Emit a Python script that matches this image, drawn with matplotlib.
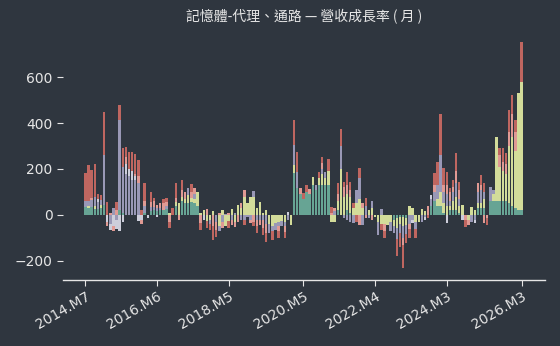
import numpy as np
import matplotlib
matplotlib.use("Agg")
import matplotlib.pyplot as plt

plt.rcParams['font.family'] = ['DejaVu Sans', 'Noto Sans CJK TC']

tick_pos = [0, 23, 46, 70, 93, 116, 140]
tick_labels = ["2014.M7", "2016.M6", "2018.M5", "2020.M5", "2022.M4", "2024.M3", "2026.M3"]

teal = [35,30,35,25,25,30,43,0,0,0,
        0,23,10,0,0,0,0,0,0,10,
        0,15,20,15,20,20,25,0,0,40,
        0,60,50,50,55,50,40,0,0,0,
        0,0,0,0,0,0,0,0,0,0,
        0,0,0,0,0,0,0,0,0,0,
        0,0,0,0,0,0,0,181,116,90,
        70,100,90,130,110,130,130,130,130,0,
        0,20,0,0,20,10,0,0,0,0,
        0,0,0,0,0,0,0,0,0,-20,
        -15,-10,-10,-15,0,0,0,0,0,0,
        0,40,60,40,40,10,0,20,20,20,
        10,0,0,0,0,0,30,30,30,0,
        60,60,60,60,60,60,50,40,30,20,20]

yellow = [0,10,0,15,0,15,0,0,0,0,
          0,0,0,0,0,0,0,0,0,0,
          0,0,0,0,0,0,0,10,0,15,
          51,20,20,35,20,20,61,10,20,-28,
          -20,15,0,-50,22,-50,-28,25,-30,43,
          30,80,51,80,80,29,58,10,20,-40,
          -50,-35,-30,-25,-30,0,-43,36,0,0,
          0,0,0,37,0,30,50,30,60,-29,
          -29,40,200,80,70,70,31,50,70,30,
          0,22,30,-7,-30,-40,-40,-43,-30,-30,
          -40,-30,-40,-30,39,29,-30,-29,25,15,
          0,0,0,30,60,40,40,20,40,60,
          30,43,0,-20,36,22,20,20,40,0,
          0,30,281,150,130,120,250,300,250,509,560]

lavender = [25,20,30,40,30,20,217,0,-40,30,
            -20,390,200,180,170,150,150,140,0,30,
            0,20,15,15,11,0,15,0,0,0,
            0,0,0,31,0,20,0,0,0,0,
            -20,0,-30,-22,-30,5,0,-20,10,0,
            -22,-20,-7,-20,26,-20,-23,-20,-40,-40,
            -20,-30,-20,-25,-20,-22,0,87,72,0,
            0,0,0,0,20,0,20,28,0,0,
            15,0,100,-14,-22,-29,-36,59,90,-43,
            40,-14,32,0,-57,25,0,0,-42,-30,
            -50,-40,-50,-40,-40,-20,-30,0,-29,-10,
            0,30,40,60,160,50,50,20,40,60,
            30,0,0,0,-29,-20,50,60,30,0,
            63,19,0,0,0,0,0,0,0,0,0]

light = [0,0,0,0,15,0,0,-30,-25,-50,
         -40,-72,-30,40,30,40,20,-25,-20,0,
         -15,0,0,-10,0,0,0,0,0,0,
         0,0,0,0,0,0,0,0,-20,0,
         0,0,0,0,0,0,0,0,0,0,
         0,0,0,0,0,0,0,0,0,0,
         0,0,0,0,0,14,0,0,0,0,
         0,0,0,0,0,0,0,0,0,0,
         0,0,0,0,0,0,0,0,0,0,
         0,0,0,0,0,0,0,0,0,0,
         0,0,0,0,0,-16,0,0,0,-12,
         0,17,0,0,0,0,-36,0,0,0,
         0,-22,0,0,0,-16,0,0,0,0,
         0,0,0,0,0,0,0,0,0,0,0]

pink = [0,0,10,0,0,0,0,-20,10,-22,
        20,0,0,30,0,0,10,30,-20,20,
        0,20,25,13,20,30,15,-30,0,20,
        -22,30,31,0,25,29,0,-35,0,25,
        0,-50,-34,10,-28,0,10,-23,-23,-30,
        21,29,0,-16,-30,-30,-20,-37,-40,0,
        0,0,-21,0,-26,0,0,0,0,26,
        0,0,22,0,0,0,25,0,0,10,
        14,30,0,40,40,30,0,0,-43,21,
        -14,0,-22,0,0,0,-31,0,0,0,
        0,0,-30,0,-21,0,0,0,0,0,
        39,0,30,0,0,30,40,40,20,50,
        40,0,-20,-23,0,0,38,20,-36,-13,
        0,0,0,50,40,40,60,100,80,0,0]

red = [123,157,121,142,21,22,188,55,0,0,
       38,65,80,47,73,85,84,70,20,79,
       0,46,15,0,0,20,17,-28,29,63,
       0,42,0,0,33,0,0,-30,0,-30,
       -25,-60,-30,0,0,0,-30,0,0,0,
       0,-23,0,0,-20,-30,0,-30,-40,0,
       -39,0,-30,0,-25,0,0,109,87,0,
       24,30,0,0,0,28,27,0,52,26,
       0,48,73,25,58,35,20,-29,43,0,
       32,0,0,0,0,-25,-30,0,0,0,
       -76,-58,-102,-38,-40,0,-41,0,0,0,
       -14,0,51,102,180,73,58,16,32,78,
       35,0,-31,0,0,0,0,44,38,-30,
       0,0,0,30,60,48,97,82,53,0,174]

series = [teal, yellow, lavender, light, pink, red]
colors = ['#67a494', '#d3dc9a', '#9998b6', '#cdcedb', '#e09a94', '#bf6660']

bg = '#2f363f'
fg = '#e6e6e6'

fig = plt.figure(figsize=(5.6, 3.46), dpi=100, facecolor=bg)
ax = fig.add_axes([0.1125, 0.191, 0.8605, 0.693])
ax.set_facecolor(bg)

n = len(teal)
x = np.arange(n)
pos_base = np.zeros(n)
neg_base = np.zeros(n)
for vals, c in zip(series, colors):
    v = np.array(vals, dtype=float)
    p = np.clip(v, 0, None)
    q = np.clip(v, None, 0)
    ax.bar(x, p, bottom=pos_base, width=0.78, color=c, linewidth=0)
    ax.bar(x, q, bottom=neg_base, width=0.78, color=c, linewidth=0)
    pos_base += p
    neg_base += q

ax.set_xlim(-7.2, 147.5)
ax.set_ylim(-283, 761)
ax.set_yticks([-200, 0, 200, 400, 600])
ax.set_yticklabels(['\u2212200', '0', '200', '400', '600'])
ax.set_xticks(tick_pos)
ax.set_xticklabels(tick_labels, rotation=30, ha='right', rotation_mode='anchor')

for s in ['left', 'right', 'top']:
    ax.spines[s].set_visible(False)
ax.spines['bottom'].set_color(fg)
ax.spines['bottom'].set_linewidth(1.0)
ax.tick_params(axis='both', colors=fg, labelsize=10, length=4)
ax.tick_params(axis='x', pad=3)

ax.set_title('記憶體-代理、通路 — 營收成長率 ( 月 )', color=fg, fontsize=10, pad=14,
             family=['Noto Sans CJK TC', 'DejaVu Sans'])

fig.savefig('out.png', dpi=100, facecolor=bg)
